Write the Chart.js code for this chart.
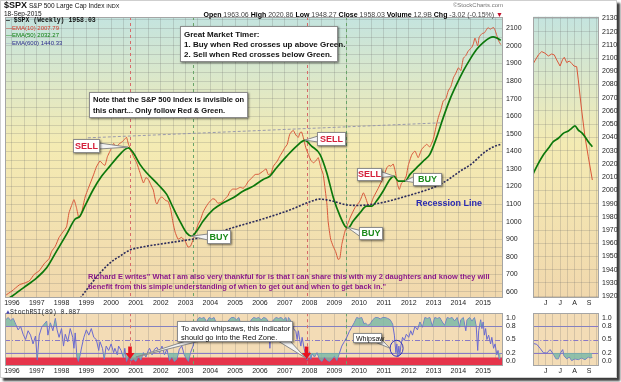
<!DOCTYPE html>
<html><head><meta charset="utf-8">
<script src="https://cdn.jsdelivr.net/npm/chart.js"></script>
<style>
html,body{margin:0;padding:0;background:#fff;}
body{position:relative;width:621px;height:382px;overflow:hidden;font-family:"Liberation Sans",Arial,sans-serif;color:#111;}
canvas{position:absolute;}
.t{position:absolute;white-space:nowrap;line-height:1;}
.box{position:absolute;background:#fff;border:1px solid #8c8c8c;box-shadow:1px 1px 2px rgba(0,0,0,.55);box-sizing:border-box;white-space:nowrap;font-weight:bold;}
#frame{position:absolute;left:0;top:0;width:617px;height:378px;border:1px solid #cfcfcf;box-sizing:border-box;box-shadow:3px 3px 2px #3c3c3c;}
.mono{font-family:"Liberation Mono","DejaVu Sans Mono",monospace;}
</style></head><body>
<div id="frame"></div>
<canvas id="cMain" width="530" height="310" style="left:0;top:0"></canvas>
<canvas id="cStoch" width="530" height="72" style="left:0;top:306px"></canvas>
<canvas id="cZoom" width="91" height="310" style="left:530px;top:0"></canvas>
<canvas id="cZoomS" width="91" height="72" style="left:530px;top:306px"></canvas>

<div class="t" style="left:4px;top:1px;font-size:9px;font-weight:bold">$SPX</div>
<div class="t" style="left:29px;top:2.5px;font-size:6.5px">S&amp;P 500 Large Cap Index <span style="font-size:5.5px">INDX</span></div>
<div class="t" style="left:4px;top:11px;font-size:6.5px">18-Sep-2015</div>
<div class="t" style="left:150px;width:353px;text-align:right;top:11px;font-size:7px;color:#444"><b style="color:#000">Open</b> 1963.06 <b style="color:#000">High</b> 2020.86 <b style="color:#000">Low</b> 1948.27 <b style="color:#000">Close</b> 1958.03 <b style="color:#000">Volume</b> 12.9B <b style="color:#000">Chg</b> -3.02 (-0.15%) <span style="color:#c0102a">▼</span></div>
<div class="t" style="left:403px;width:100px;text-align:right;top:2px;font-size:6px;color:#777">©StockCharts.com</div>

<div class="t mono" style="left:6px;top:18px;font-size:6.5px;font-weight:bold;color:#111">— $SPX (Weekly) 1958.03</div>
<div class="t" style="left:6px;top:24.5px;font-size:6px;color:#d23a2a">—EMA(10) 2007.79</div>
<div class="t" style="left:6px;top:32px;font-size:6px;color:#0a7a0a">—EMA(50) 2032.27</div>
<div class="t" style="left:6px;top:40px;font-size:6px;color:#2a2a8a">···EMA(600) 1440.33</div>

<div class="box" style="left:180px;top:26px;width:158px;height:36px;padding:3px 0 0 3px;font-size:8px;line-height:10px;color:#111">Great Market Timer:<br>1. Buy when Red crosses up above Green.<br>2. Sell when Red crosses below Green.</div>
<div class="box" style="left:89px;top:92px;width:159px;height:26px;padding:2px 0 0 3px;font-size:7.5px;line-height:10.5px;color:#111">Note that the S&amp;P 500 Index is invisible on<br>this chart... Only follow Red &amp; Green.</div>
<div class="t" style="left:416px;top:199px;font-size:9px;font-weight:bold;color:#2a2ab0">Recession Line</div>
<div class="t" style="left:88px;top:272px;font-size:7.5px;line-height:9.5px;font-weight:bold;color:#8b1a8b">Richard E writes" What I am also very thankful for is that I can share this with my 2 daughters and know they will<br>benefit from this simple understanding of when to get out and when to get back in."</div>

<div class="t mono" style="left:6px;top:310px;font-size:6.5px;color:#222"><span style="color:#4a4ab0">▲</span>StochRSI(89) 0.087</div>
<div class="box" style="left:177px;top:321px;width:116px;height:21px;padding:2px 0 0 3px;font-size:7.5px;line-height:9px;font-weight:normal;color:#111">To avoid whipsaws, this Indicator<br>should go into the Red Zone.</div>
<div class="box" style="left:353px;top:333px;width:29px;height:10px;padding:1px 0 0 2px;font-size:7px;line-height:7px;font-weight:normal;color:#111">Whipsaw</div>

<script>
// ===== DATA =====
const emaFastT = [1995.72,1996.0,1996.3,1996.5,1996.7,1996.9,1997.1,1997.3,1997.5,1997.6,1997.75,1997.9,1998.05,1998.2,1998.3,1998.4,1998.5,1998.6,1998.7,1998.8,1998.95,1999.15,1999.3,1999.4,1999.55,1999.65,1999.75,1999.85,1999.95,2000.1,2000.2,2000.3,2000.45,2000.55,2000.62,2000.7,2000.8,2000.9,2001.03,2001.16,2001.3,2001.4,2001.5,2001.6,2001.7,2001.8,2001.85,2001.95,2002.05,2002.2,2002.3,2002.4,2002.5,2002.58,2002.7,2002.84,2002.98,2003.1,2003.2,2003.31,2003.4,2003.51,2003.6,2003.71,2003.85,2003.98,2004.1,2004.19,2004.3,2004.39,2004.5,2004.59,2004.7,2004.79,2004.9,2005.06,2005.2,2005.33,2005.45,2005.53,2005.65,2005.8,2005.95,2006.13,2006.25,2006.33,2006.45,2006.54,2006.7,2006.8,2006.9,2007.0,2007.1,2007.2,2007.34,2007.42,2007.48,2007.55,2007.61,2007.68,2007.75,2007.85,2007.95,2008.05,2008.15,2008.25,2008.35,2008.45,2008.55,2008.62,2008.7,2008.75,2008.85,2008.95,2009.05,2009.15,2009.22,2009.3,2009.43,2009.55,2009.63,2009.83,2010.03,2010.17,2010.25,2010.35,2010.44,2010.57,2010.77,2010.97,2011.11,2011.2,2011.28,2011.37,2011.45,2011.55,2011.62,2011.71,2011.8,2011.9,2011.98,2012.12,2012.25,2012.38,2012.52,2012.72,2012.85,2012.99,2013.1,2013.19,2013.3,2013.39,2013.5,2013.59,2013.7,2013.8,2013.9,2014.0,2014.1,2014.2,2014.3,2014.4,2014.53,2014.6,2014.67,2014.78,2014.84,2014.95,2015.05,2015.12,2015.2,2015.28,2015.34,2015.42,2015.48,2015.55,2015.62,2015.71];
const emaFastV = [578,605,640,650,662,700,720,760,790,830,860,910,940,970,1050,1090,1125,1080,1020,1045,1140,1215,1270,1310,1345,1330,1320,1370,1400,1445,1420,1440,1455,1470,1480,1440,1405,1370,1335,1280,1220,1250,1240,1210,1180,1110,1100,1130,1140,1120,1115,1070,990,940,900,910,890,855,860,900,940,985,1010,1055,1090,1115,1130,1126,1105,1107,1115,1130,1145,1172,1185,1185,1195,1190,1210,1230,1245,1268,1270,1288,1300,1268,1275,1315,1345,1372,1395,1420,1440,1497,1520,1500,1487,1480,1506,1510,1478,1420,1383,1350,1335,1345,1364,1310,1269,1193,1100,1000,900,860,830,785,790,870,946,990,1020,1079,1117,1164,1140,1100,1088,1136,1190,1250,1305,1320,1315,1328,1290,1210,1183,1220,1230,1260,1320,1380,1402,1364,1411,1440,1425,1470,1540,1592,1640,1687,1700,1744,1770,1819,1845,1876,1860,1930,1945,1972,1990,2010,2045,2000,2050,2070,2075,2090,2105,2095,2100,2105,2090,2060,2030,2008];
const emaSlowT = [1995.72,1996.0,1996.46,1997.0,1997.4,1997.8,1998.2,1998.54,1998.74,1998.94,1999.28,1999.62,1999.95,2000.29,2000.56,2000.69,2000.89,2001.16,2001.43,2001.83,2002.0,2002.24,2002.5,2002.77,2003.04,2003.25,2003.45,2003.71,2004.12,2004.52,2004.92,2005.33,2005.73,2006.13,2006.4,2006.67,2007.08,2007.48,2007.81,2008.08,2008.42,2008.69,2008.96,2009.23,2009.43,2009.56,2009.76,2010.03,2010.3,2010.5,2010.7,2010.97,2011.24,2011.4,2011.58,2011.85,2012.05,2012.32,2012.59,2012.85,2013.12,2013.39,2013.66,2013.93,2014.2,2014.47,2014.74,2015.0,2015.27,2015.4,2015.55,2015.71];
const emaSlowV = [550,575,623,680,737,832,927,1013,1031,1088,1183,1259,1316,1373,1411,1420,1392,1326,1278,1220,1195,1155,1079,1003,936,917,946,1003,1069,1107,1136,1174,1202,1240,1259,1307,1373,1430,1462,1430,1383,1280,1136,1031,974,965,1003,1050,1088,1088,1117,1174,1240,1259,1231,1231,1269,1307,1345,1383,1478,1592,1696,1781,1858,1924,1981,2019,2047,2052,2045,2032];
const emaLongT = [1998.6,1998.74,1999.15,1999.55,1999.95,2000.35,2000.76,2001.36,2001.97,2002.77,2003.58,2004.9,2006.27,2007.2,2008.0,2008.4,2008.9,2009.5,2010.0,2010.6,2011.2,2011.9,2012.5,2013.1,2013.6,2014.1,2014.5,2015.0,2015.4,2015.71];
const emaLongV = [530,560,638,707,764,803,838,858,872,889,908,965,1022,1066,1112,1128,1118,1095,1092,1100,1117,1145,1170,1200,1240,1290,1325,1388,1425,1440];
const trendT = [1999.06, 2013.38];
const trendV = [1477, 1563];
const signalT = [2000.76, 2003.31, 2007.88, 2009.47];
const signalKind = ['sell','buy','sell','buy'];
const calloutText = ['SELL','BUY','SELL','SELL','BUY','BUY'];
const calloutT = [2000.68, 2003.22, 2007.81, 2011.40, 2011.85, 2009.51];
const calloutV = [1424, 917, 1464, 1259, 1231, 969];
const stochT = [1995.75,1995.85,1995.95,1996.05,1996.15,1996.25,1996.35,1996.45,1996.55,1996.65,1996.75,1996.85,1996.95,1997.02,1997.1,1997.2,1997.3,1997.4,1997.45,1997.55,1997.65,1997.75,1997.82,1997.9,1998.0,1998.08,1998.15,1998.25,1998.35,1998.45,1998.5,1998.55,1998.62,1998.68,1998.75,1998.82,1998.9,1999.0,1999.1,1999.2,1999.3,1999.4,1999.5,1999.55,1999.65,1999.72,1999.8,1999.9,2000.0,2000.1,2000.15,2000.25,2000.3,2000.4,2000.5,2000.55,2000.62,2000.7,2000.8,2000.9,2001.0,2001.1,2001.2,2001.3,2001.4,2001.5,2001.55,2001.65,2001.75,2001.85,2001.95,2002.05,2002.15,2002.25,2002.35,2002.45,2002.55,2002.65,2002.75,2002.85,2002.95,2003.05,2003.12,2003.2,2003.3,2003.4,2003.48,2003.55,2003.65,2003.75,2003.85,2003.95,2004.05,2004.15,2004.25,2004.35,2004.45,2004.55,2004.65,2004.75,2004.85,2004.95,2005.05,2005.15,2005.25,2005.35,2005.45,2005.55,2005.65,2005.75,2005.85,2005.95,2006.05,2006.15,2006.25,2006.35,2006.4,2006.45,2006.55,2006.65,2006.75,2006.85,2006.95,2007.05,2007.1,2007.15,2007.25,2007.35,2007.45,2007.5,2007.55,2007.6,2007.65,2007.7,2007.78,2007.85,2007.9,2007.95,2008.0,2008.05,2008.1,2008.2,2008.3,2008.4,2008.5,2008.6,2008.7,2008.8,2008.9,2009.0,2009.1,2009.2,2009.3,2009.4,2009.5,2009.6,2009.7,2009.8,2009.9,2010.0,2010.1,2010.2,2010.25,2010.35,2010.45,2010.55,2010.65,2010.75,2010.85,2010.95,2011.05,2011.15,2011.25,2011.35,2011.42,2011.48,2011.52,2011.56,2011.6,2011.64,2011.68,2011.75,2011.82,2011.9,2012.0,2012.08,2012.15,2012.25,2012.35,2012.45,2012.55,2012.65,2012.75,2012.85,2012.95,2013.05,2013.15,2013.25,2013.35,2013.45,2013.55,2013.65,2013.75,2013.85,2013.95,2014.05,2014.1,2014.2,2014.3,2014.35,2014.45,2014.55,2014.65,2014.72,2014.78,2014.82,2014.9,2014.95,2015.0,2015.05,2015.1,2015.15,2015.22,2015.3,2015.35,2015.42,2015.48,2015.55,2015.6,2015.65,2015.71];
const stochV = [.95,1.0,.93,.98,.85,.72,.8,.62,.5,.7,.6,.4,.58,.03,.6,.78,.85,.92,.6,.88,.7,.98,.72,.55,.75,.35,.62,.45,.75,.55,.3,.65,.1,.0,.15,.35,.55,.72,.6,.75,.55,.5,.25,.45,.3,.05,.35,.25,.4,.2,.3,.15,.35,.25,.08,.3,.0,.1,.02,.05,.0,.12,.03,.2,.1,.25,.3,.15,.28,.32,.2,.35,.15,.28,.02,.1,.0,.05,.28,.35,.15,.05,.0,.2,.35,.6,.95,1.0,.98,1.0,.9,1.0,.97,1.0,.85,.78,.82,.9,.78,.95,1.0,1.0,.95,1.0,.8,.72,.85,.78,.95,1.0,.98,1.0,.95,1.0,.98,.9,.3,.85,.95,1.0,.98,1.0,.95,1.0,.8,1.0,.92,.75,.68,.5,.7,.5,.35,.55,.3,.12,.03,.15,.22,.05,.18,.1,.2,.05,.0,.1,.03,.0,.05,.12,.02,.18,.35,.45,.55,.68,.78,.88,1.0,.98,1.0,.85,.88,.82,.86,.95,1.0,1.0,.97,1.0,1.0,.98,.95,.85,.6,.2,.4,.1,.35,.15,.35,.55,.48,.62,.55,.7,.6,.8,.72,.9,.78,1.0,.98,1.0,.8,1.0,.98,1.0,.9,.82,1.0,.98,1.0,.92,1.0,.78,.95,1.0,.7,.95,1.0,.92,1.0,.8,.25,.7,.95,.75,.9,.6,.75,.5,.6,.4,.55,.3,.4,.15,.25,.05,.087];
const arrowT = [2000.76, 2007.88];
const whipsawT = 2011.51, whipsawV = 0.30;
const zoomMonthLabels = ['J','J','A','S'];
const zoomFastT = [0.145,0.49,0.72,0.95,1.18,1.41,1.59,1.76,1.99,2.17,2.28,2.45,2.63,2.79,2.95,3.14,3.25,3.48,3.71,3.94,4.22];
const zoomFastV = [2096,2102.4,2104.9,2103.7,2101.6,2103.1,2102.4,2098.6,2094,2099.1,2100.6,2096.6,2097.8,2096,2094,2093.5,2083.5,2060.8,2040.6,2025.4,2007.8];
const zoomSlowT = [0.145,0.49,0.83,1.18,1.52,1.87,2.21,2.56,2.79,3.02,3.25,3.48,3.71,3.94,4.22];
const zoomSlowV = [2012.9,2020.4,2026.7,2031.8,2036.8,2039.4,2043.1,2044.9,2046.9,2048.7,2045.6,2043.6,2040.6,2036.8,2033];
const zoomStochT = [0.145,0.38,0.61,0.83,1.07,1.3,1.53,1.71,1.87,2.03,2.17,2.26,2.45,2.63,2.79,3.02,3.25,3.48,3.71,3.94,4.06,4.22];
const zoomStochV = [0.41,0.39,0.30,0.20,0.19,0.27,0.165,0.06,0.06,0.20,0.27,0.13,0.06,0.10,0.02,0.06,0.04,0.08,0.04,0.10,0.08,0.09];
const stochTickValues = [0, 0.2, 0.5, 0.8, 1.0];

// ===== LAYOUT (annotation boxes, pixels) =====
const calloutBox = [[73,139,27,14,'right'],[207,230,24,14,'left'],[317,132,29,14,'left'],[357,168,25,13,'right'],[413,173,29,13,'left'],[359,227,24,13,'left']];
const STOCH_TOP = 306;

// ===== HELPERS =====
const P = (T,V)=>T.map((t,i)=>({x:t,y:V[i]}));
const FONT = '"Liberation Sans", Arial, sans-serif';
const tickFont = {family:FONT, size:7};
const gridColor = 'rgba(105,105,105,0.22)';
const halfYears = []; for (let y=1996; y<=2015.5; y+=0.5) halfYears.push(y);
const mainYTicks = []; for (let v=600; v<=2150; v+=50) mainYTicks.push(v);
const zoomYTicks = []; for (let v=1920; v<=2130; v+=10) zoomYTicks.push(v);
const halfMonths = []; for (let m=0.5; m<=4.5; m+=0.5) halfMonths.push(m);

function bgPlugin(kind){
  return {
    id:'bg_'+kind,
    beforeDraw(c){
      const {ctx, chartArea:a} = c; ctx.save();
      let f;
      if (kind==='grad'){ f = ctx.createLinearGradient(0,a.top,0,a.bottom);
        f.addColorStop(0,'#c4e4df'); f.addColorStop(0.45,'#f4ebb3'); f.addColorStop(1,'#f1d8ad'); }
      else f = '#f3dcb6';
      ctx.fillStyle = f; ctx.fillRect(a.left,a.top,a.width,a.height); ctx.restore();
    },
    afterDraw(c){
      const {ctx, chartArea:a} = c; ctx.save(); ctx.strokeStyle='#a5a5a5'; ctx.lineWidth=1;
      ctx.strokeRect(Math.round(a.left)+0.5, Math.round(a.top)+0.5, Math.round(a.width)-1, Math.round(a.height)-1);
      ctx.restore();
    }
  };
}
function wedge(ctx, x1,y1,x2,y2,tx,ty){
  ctx.beginPath(); ctx.moveTo(x1,y1); ctx.lineTo(tx,ty); ctx.lineTo(x2,y2); ctx.closePath();
  ctx.fillStyle='#f4f4f4'; ctx.fill(); ctx.strokeStyle='#8a8a8a'; ctx.lineWidth=1; ctx.stroke();
}
function drawSignals(c){
  const {ctx, chartArea:a, scales:{x}} = c; ctx.save(); ctx.setLineDash([3,3]); ctx.lineWidth=1;
  signalT.forEach((t,i)=>{ const px=Math.round(x.getPixelForValue(t))+0.5;
    ctx.strokeStyle = signalKind[i]==='sell' ? '#d86a6a' : '#6aa56a';
    ctx.beginPath(); ctx.moveTo(px,a.top); ctx.lineTo(px,a.bottom); ctx.stroke(); });
  ctx.restore();
}
function xScaleOpts(min,max,tickVals,labelFn){
  return {type:'linear', min, max,
    afterBuildTicks: s=>{ s.ticks = tickVals.map(v=>({value:v})); },
    afterFit: s=>{ s.height = 12; },
    grid:{color:gridColor, drawTicks:false}, border:{display:false},
    ticks:{font:tickFont, color:'#222', padding:1, autoSkip:false, maxRotation:0, minRotation:0, callback:labelFn}};
}
function yScaleOpts(min,max,tickVals,labelFn,width,gridOn){
  return {position:'right', min, max,
    afterBuildTicks: s=>{ s.ticks = tickVals.map(v=>({value:v})); },
    afterFit: s=>{ s.width = width; },
    grid:{display:gridOn, color:gridColor, drawTicks:false}, border:{display:false},
    ticks:{font:tickFont, color:'#222', padding:3, autoSkip:false, callback:labelFn}};
}
const baseOpts = {responsive:false, animation:false, devicePixelRatio:1, events:[],
  plugins:{legend:{display:false}, tooltip:{enabled:false}}, elements:{point:{radius:0}}};

// ===== MAIN PRICE PANEL =====
const mainPlugin = {
  id:'mainAnn',
  beforeDatasetsDraw(c){ drawSignals(c); },
  afterDatasetsDraw(c){
    const {ctx, scales:{x,y}} = c; ctx.save();
    calloutT.forEach((t,i)=>{
      const [l,tp,w,h,side] = calloutBox[i];
      const ax = x.getPixelForValue(t), ay = y.getPixelForValue(calloutV[i]);
      const bx = side==='right' ? l+w-1 : l+1, cy = tp+h/2;
      wedge(ctx, bx, cy-3, bx, cy+3, ax, ay);
    });
    ctx.restore();
  }
};
new Chart(document.getElementById('cMain'), {
  type:'line',
  data:{datasets:[
    {data:P(trendT,trendV), borderColor:'#9a9aac', borderWidth:1, borderDash:[3,2], tension:0},
    {data:P(emaLongT,emaLongV), borderColor:'#2c2c5c', borderWidth:1.6, borderDash:[2,1.5], cubicInterpolationMode:'monotone'},
    {data:P(emaSlowT,emaSlowV), borderColor:'#0b780b', borderWidth:1.7, cubicInterpolationMode:'monotone'},
    {data:P(emaFastT,emaFastV), borderColor:'#d9573a', borderWidth:1, tension:0.15}
  ]},
  options:{...baseOpts, layout:{padding:{left:5, top:17, right:0, bottom:0}},
    scales:{
      x: xScaleOpts(1995.72, 2015.8, halfYears, v=>Number.isInteger(v)?String(v):''),
      y: yScaleOpts(565, 2165, mainYTicks, v=>v%100===0?String(v):'', 27, true)
    }},
  plugins:[bgPlugin('grad'), mainPlugin]
});

// ===== STOCH RSI PANEL =====
function drawThresholds(c){
  const {ctx, chartArea:a, scales:{y}} = c; ctx.save(); ctx.lineWidth=1; ctx.strokeStyle='#8a78c6';
  [0.8,0.2].forEach(v=>{ const py=Math.round(y.getPixelForValue(v))+0.5; ctx.beginPath(); ctx.moveTo(a.left,py); ctx.lineTo(a.right,py); ctx.stroke(); });
  ctx.setLineDash([5,2,1,2]); const p5=Math.round(y.getPixelForValue(0.5))+0.5;
  ctx.beginPath(); ctx.moveTo(a.left,p5); ctx.lineTo(a.right,p5); ctx.stroke();
  ctx.restore();
}
const stochPlugin = {
  id:'stochAnn',
  beforeDatasetsDraw(c){
    const {ctx, chartArea:a, scales:{y}} = c; ctx.save();
    const rz = y.getPixelForValue(0.09);
    ctx.fillStyle='#e6344b'; ctx.fillRect(a.left, rz, a.width, a.bottom-rz);
    ctx.restore();
    drawThresholds(c);
    drawSignals(c);
  },
  afterDatasetsDraw(c){
    const {ctx, scales:{x,y}} = c; ctx.save();
    arrowT.forEach(t=>{
      const px = x.getPixelForValue(t), top=y.getPixelForValue(0.34), mid=y.getPixelForValue(0.19), tip=y.getPixelForValue(0.05);
      ctx.fillStyle='#e8121e';
      ctx.fillRect(px-1.8, top, 3.6, mid-top);
      ctx.beginPath(); ctx.moveTo(px-4.5, mid); ctx.lineTo(px+4.5, mid); ctx.lineTo(px, tip); ctx.closePath(); ctx.fill();
    });
    const base = 341 - STOCH_TOP;
    const t1 = x.getPixelForValue(arrowT[0]), t2 = x.getPixelForValue(arrowT[1]);
    wedge(ctx, 186, base, 200, base, t1+6, y.getPixelForValue(0.1));
    wedge(ctx, 278, base, 290, base, t2-1, y.getPixelForValue(0.08));
    const wx = x.getPixelForValue(whipsawT), wy = y.getPixelForValue(whipsawV);
    wedge(ctx, 375, 342-STOCH_TOP, 381, 339-STOCH_TOP, wx-6.5, wy);
    ctx.strokeStyle='#3636b8'; ctx.lineWidth=1; ctx.beginPath(); ctx.ellipse(wx, wy, 6.5, 8, 0, 0, Math.PI*2); ctx.stroke();
    ctx.restore();
  }
};
function stochSets(T,V){
  return [
    {data:P(T,V), borderWidth:0, borderColor:'transparent', fill:{target:{value:0.8}, above:'rgba(118,184,166,0.8)', below:'rgba(0,0,0,0)'}},
    {data:P(T,V), borderWidth:0, borderColor:'transparent', fill:{target:{value:0.2}, above:'rgba(0,0,0,0)', below:'rgba(118,184,166,0.8)'}},
    {data:P(T,V), borderColor:'#6a6ad0', borderWidth:1, fill:false}
  ];
}
new Chart(document.getElementById('cStoch'), {
  type:'line',
  data:{datasets:stochSets(stochT,stochV)},
  options:{...baseOpts, layout:{padding:{left:5, top:3, right:0, bottom:0}},
    scales:{
      x: xScaleOpts(1995.72, 2015.8, halfYears, v=>Number.isInteger(v)?String(v):''),
      y: yScaleOpts(-0.104, 1.10, stochTickValues, v=>v.toFixed(1), 27, false)
    }},
  plugins:[bgPlugin('peach'), stochPlugin]
});

// ===== ZOOM PANELS =====
const monthLabel = v => Number.isInteger(v) ? zoomMonthLabels[v-1] : '';
new Chart(document.getElementById('cZoom'), {
  type:'line',
  data:{datasets:[
    {data:P(zoomSlowT,zoomSlowV), borderColor:'#0b780b', borderWidth:1.7, cubicInterpolationMode:'monotone'},
    {data:P(zoomFastT,zoomFastV), borderColor:'#d9573a', borderWidth:1, tension:0}
  ]},
  options:{...baseOpts, layout:{padding:{left:3.3, top:16.7, right:0, bottom:0}},
    scales:{
      x: xScaleOpts(0.14, 4.68, halfMonths, monthLabel),
      y: yScaleOpts(1918.6, 2131.3, zoomYTicks, v=>String(v), 22, true)
    }},
  plugins:[bgPlugin('grad')]
});
new Chart(document.getElementById('cZoomS'), {
  type:'line',
  data:{datasets:stochSets(zoomStochT,zoomStochV)},
  options:{...baseOpts, layout:{padding:{left:3.3, top:3, right:0, bottom:0}},
    scales:{
      x: xScaleOpts(0.14, 4.68, halfMonths, monthLabel),
      y: yScaleOpts(-0.104, 1.10, stochTickValues, v=>v.toFixed(1), 22, false)
    }},
  plugins:[bgPlugin('peach'), {id:'zth', beforeDatasetsDraw(c){ drawThresholds(c); }}]
});

// callout boxes (HTML text)
calloutText.forEach((txt,i)=>{
  const [l,tp,w,h] = calloutBox[i];
  const d = document.createElement('div'); d.className='box'; d.textContent = txt;
  d.style.cssText += `left:${l}px;top:${tp}px;width:${w}px;height:${h}px;line-height:${h-2}px;text-align:center;font-size:9px;color:${txt==='SELL'?'#d4203a':'#1b8a1b'}`;
  document.body.appendChild(d);
});
</script>
</body></html>
